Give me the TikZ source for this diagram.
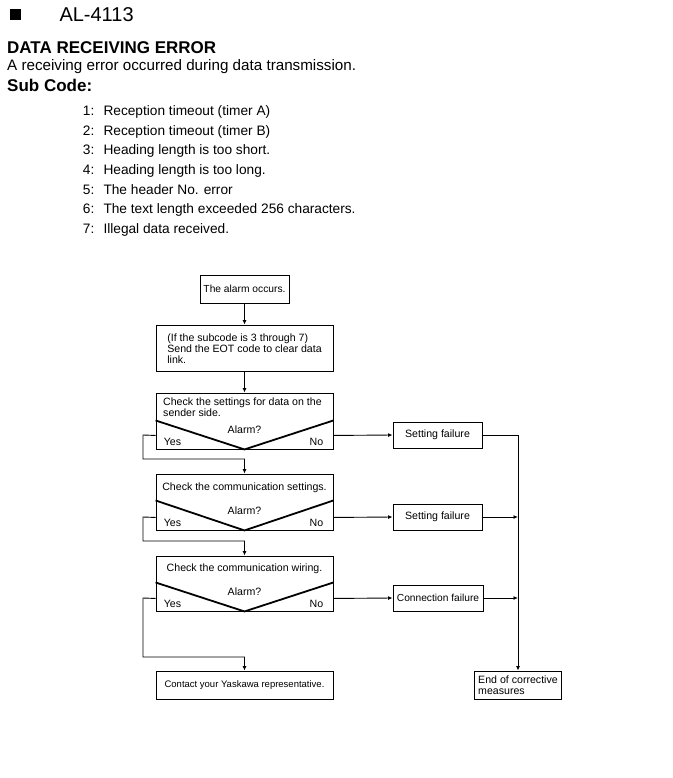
\documentclass[tikz,border=0pt]{standalone}
\usepackage{fontspec}
\setmainfont{Liberation Sans}
\usetikzlibrary{arrows.meta}
\begin{document}
\begin{tikzpicture}[x=1pt,y=-1pt,
  box/.style={draw, line width=0.9pt, inner sep=0pt, font=\fontsize{10.6}{11}\selectfont},
  txt/.style={inner sep=0pt, font=\fontsize{10.6}{11}\selectfont},
  conn/.style={line width=0.9pt},
  arr/.style={conn, -{Latex[length=4.5pt,width=4pt]}},
  vee/.style={line width=1.8pt, line join=miter},
  listtxt/.style={inner sep=0pt, anchor=base west, font=\fontsize{13.7}{16}\selectfont}]
\useasboundingbox (0,0) rectangle (672,778);
% header
\fill (9.5,9.5) rectangle (20.5,20.5);
\node[inner sep=0pt, anchor=base west, font=\fontsize{20}{24}\selectfont] (code) at (59.3,21.5) {AL-4113};
\node[inner sep=0pt, anchor=base west, font=\fontsize{17}{20}\selectfont\bfseries] (title) at (7,53.3) {DATA RECEIVING ERROR};
\node[inner sep=0pt, anchor=base west, font=\fontsize{15.2}{18}\selectfont] (desc) at (7,71) {A receiving error occurred during data transmission.};
\node[inner sep=0pt, anchor=base west, font=\fontsize{17}{20}\selectfont\bfseries] (sub) at (7,92) {Sub Code:};
% list
\foreach \n/\t [count=\i from 0] in {1/Reception timeout (timer A),2/Reception timeout (timer B),3/Heading length is too short.,4/Heading length is too long.,5/The header No. error,6/The text length exceeded 256 characters.,7/Illegal data received.}{
  \node[listtxt] (num\n) at (82.7,115.7+19.6*\i) {\n:};
  \node[listtxt] (item\n) at (103.3,115.7+19.6*\i) {\t};
}
% flowchart boxes
\node[box, minimum width=89pt, minimum height=28pt, font=\fontsize{10.25}{11}\selectfont] (alarm) at (244.5,289) {The alarm occurs.};
\node[box, minimum width=177pt, minimum height=46pt, align=left] (eot) at (244.5,348) {\rule{0pt}{9pt}(If the subcode is 3 through 7)\\Send the EOT code to clear data\\link.};
\node[box, minimum width=177pt, minimum height=56pt] (d1) at (244.5,421) {};
\node[box, minimum width=177pt, minimum height=56pt] (d2) at (244.5,502) {};
\node[box, minimum width=177pt, minimum height=55pt] (d3) at (244.5,583.5) {};
\node[box, minimum width=177pt, minimum height=28pt, font=\fontsize{9.5}{11}\selectfont] (contact) at (244.5,685) {Contact your Yaskawa representative.};
\node[box, minimum width=87pt, minimum height=28pt, align=left] (endb) at (518,685) {End of corrective\\measures};
\node[box, minimum width=89pt, minimum height=26pt] (sf1) at (437.5,435) {Setting failure};
\node[box, minimum width=89pt, minimum height=26pt] (sf2) at (437.5,517) {Setting failure};
\node[box, minimum width=90pt, minimum height=26pt, font=\fontsize{10.2}{11}\selectfont] (cf) at (438,598) {Connection failure};
% decision contents
\node[txt, anchor=north west, align=left] (d1t) at (163,397.6) {Check the settings for data on the\\sender side.};
\node[txt] (d2t) at (244.5,487.5) {Check the communication settings.};
\node[txt] (d3t) at (244.5,569) {Check the communication wiring.};
\foreach \d/\h in {d1/29,d2/30,d3/29}{
  \draw[vee] ([yshift=\h pt]\d.south west) -- (\d.south) -- ([yshift=\h pt]\d.south east);
  \node[txt, anchor=base] (\d a) at ([yshift=16pt]\d.south) {Alarm?};
  \node[txt, anchor=base west] (\d y) at ([xshift=8pt,yshift=4pt]\d.south west) {Yes};
  \node[txt, anchor=base east] (\d n) at ([xshift=-10pt,yshift=4pt]\d.south east) {No};
}
% main connectors
\draw[arr] (alarm.south) -- (eot.north);
\draw[arr] (eot.south) -- (d1.north);
% yes routes
\coordinate (y1a) at (143,435); \coordinate (y1b) at (143,459); \coordinate (y1c) at (244.5,459);
\coordinate (y2a) at (143,517); \coordinate (y2b) at (143,541); \coordinate (y2c) at (244.5,541);
\coordinate (y3a) at (143,598); \coordinate (y3b) at (143,657); \coordinate (y3c) at (244.5,657);
\draw[arr] ([yshift=14pt]d1.south west) -- (y1a) -- (y1b) -- (y1c) -- (d2.north);
\draw[arr] ([yshift=13pt]d2.south west) -- (y2a) -- (y2b) -- (y2c) -- (d3.north);
\draw[arr] ([yshift=13pt]d3.south west) -- (y3a) -- (y3b) -- (y3c) -- (contact.north);
% no routes
\draw[arr] ([yshift=14pt]d1.south east) -- (sf1.west);
\draw[arr] ([yshift=13pt]d2.south east) -- (sf2.west);
\draw[arr] ([yshift=13pt]d3.south east) -- (cf.west);
% right collector
\coordinate (r1) at (518,435); \coordinate (r2) at (518,517); \coordinate (r3) at (518,598);
\draw[conn] (sf1.east) -- (r1);
\draw[arr] (r1) -- (endb.north);
\draw[arr] (sf2.east) -- (r2);
\draw[arr] (cf.east) -- (r3);
\end{tikzpicture}
\end{document}
